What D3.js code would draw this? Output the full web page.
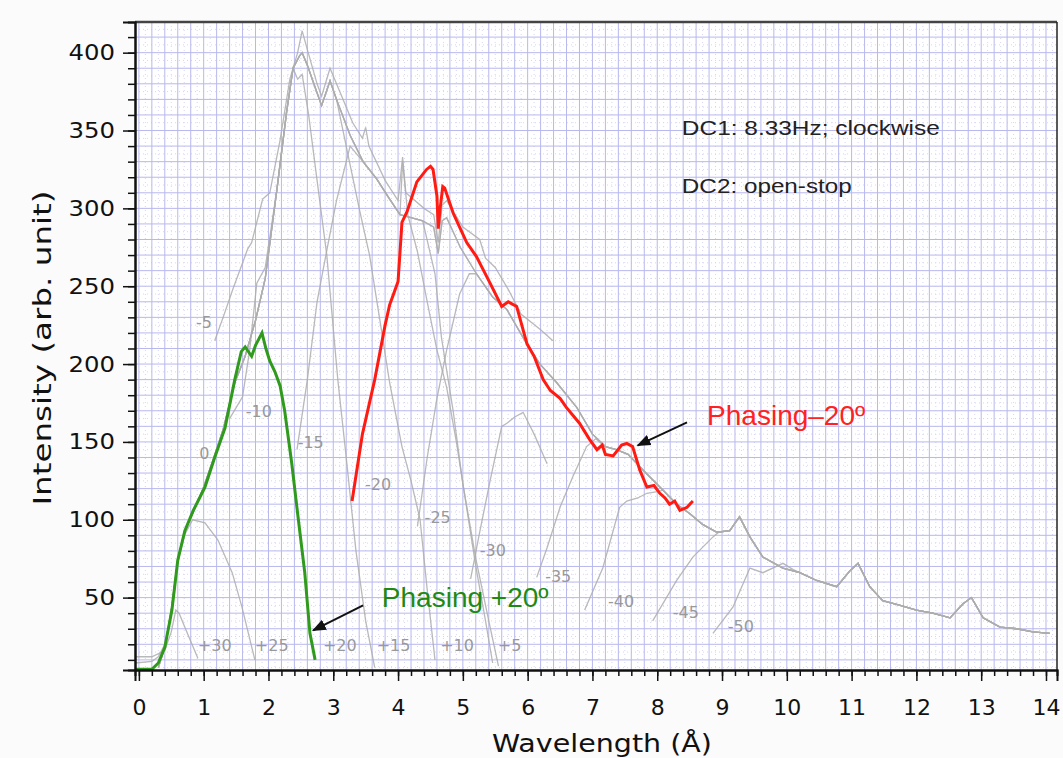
<!DOCTYPE html>
<html lang="en">
<head>
<meta charset="UTF-8"/>
<title>Phasing spectra</title>
<script src="https://d3js.org/d3.v7.min.js"></script>
<style>
	body{ margin:0; background:#fbfbfb; }
	text{ font-family: "DejaVu Sans", Verdana, sans-serif; }
	.note{ font-family: "Liberation Sans", Arial, sans-serif; }
</style>
</head>
<body>
<script>
// wavelength (Å), intensity (arb. unit)
var riseEdge = [[0.3,5],[0.4,18],[0.5,42],[0.6,74],[0.7,92],[0.85,106],[1.0,121],[1.15,139],[1.3,158],
	[1.48,188],[1.64,205],[1.8,228],[1.95,255],[2.13,312],[2.28,362],[2.38,390],[2.48,398]];
var spectrum = [[2.52,400],[2.6,392],[2.7,380],[2.82,366],[2.95,382],[3.05,370],[3.26,347],[3.46,330],
	[3.67,319],[3.87,306],[4.03,296],[4.2,294],[4.38,292],[4.55,288],[4.62,271],[4.68,292],[4.75,294],
	[4.96,275],[5.21,258],[5.46,243],[5.68,235],[5.93,217],[6.19,200],[6.45,188],[6.76,172],[7.0,155],
	[7.2,147],[7.37,145],[7.55,142],[7.78,132],[8.09,119],[8.3,110],[8.5,104],[8.7,97],[8.92,92],
	[9.12,93],[9.27,102],[9.43,89],[9.63,76],[9.94,69],[10.2,66],[10.46,61],[10.77,57],[10.97,67],
	[11.1,72],[11.28,57],[11.48,48],[11.75,45],[12.0,42],[12.25,40],[12.52,37],[12.72,46],[12.85,50],
	[13.03,37],[13.29,31],[13.55,30],[13.8,28],[14.06,27]];

var plus30 = [[-0.06,12],[0.2,12],[0.4,16],[0.5,28],[0.57,42],[0.62,40],[0.7,32],[0.8,22],[0.91,11]];
var plus25 = [[-0.06,8],[0.2,9],[0.3,12],[0.4,20],[0.5,40],[0.6,72],[0.7,90],[0.83,100],[1.02,98],
	[1.22,87],[1.44,66],[1.59,44],[1.79,10]];
var plus15Tail = [[2.45,383],[2.52,386],[2.62,360],[2.75,318],[2.9,270],[3.07,190],[3.2,140],[3.35,80],
	[3.5,35],[3.64,5]];
var plus10Tail = [[3.26,328],[3.4,300],[3.56,270],[3.72,228],[3.87,188],[4.06,147],[4.2,125],[4.34,100],
	[4.45,55],[4.57,10]];
var plus5Tail = [[4.07,330],[4.15,296],[4.3,272],[4.45,240],[4.6,209],[4.75,185],[4.9,150],[5.05,110],
	[5.2,70],[5.35,35],[5.46,8]];
var zeroTail = [[4.57,258],[4.67,217],[4.85,170],[5.0,123],[5.2,75],[5.4,35],[5.55,6]];

var minus5 = [[1.17,215],[1.3,230],[1.45,248],[1.68,274],[1.74,278],[1.91,306],[2.02,310],[2.18,344],
	[2.33,383],[2.45,400],[2.52,414],[2.6,402],[2.75,380],[2.82,372],[2.95,390],[3.1,375],[3.3,355],
	[3.45,345],[3.5,352],[3.55,340],[3.8,318],[4.0,305],[4.07,333],[4.12,310],[4.4,300],[4.55,296],
	[4.62,278],[4.68,302],[4.75,305],[5.0,288],[5.26,280],[5.35,268],[5.5,262],[5.7,248],[5.9,232],
	[6.08,226],[6.2,222],[6.39,215]];
var minus10Head = [[1.4,165],[1.6,179],[1.71,209],[1.82,252],[1.95,262]];
var minus15Head = [[2.44,145],[2.6,190],[2.75,240],[2.9,273],[3.05,305],[3.26,340]];
var minus25Head = [[4.3,96],[4.45,140],[4.6,178],[4.75,209],[4.95,245],[5.1,258]];
var minus30 = [[5.12,62],[5.25,90],[5.42,125],[5.6,160],[5.68,162],[5.8,166],[5.93,169],[6.1,155],[6.3,136]];
var minus35Head = [[6.14,63],[6.3,82],[6.5,108],[6.7,128],[6.91,147],[7.05,152]];
var minus40Head = [[6.88,42],[7.16,69],[7.42,108],[7.53,112],[7.7,114],[7.84,117],[8.0,118]];
var minus45Head = [[7.93,35],[8.3,61],[8.55,76],[8.86,89],[8.95,92]];
var minus50Head = [[8.86,27],[9.17,44],[9.43,69],[9.63,66],[9.94,72],[10.1,68]];

var phasingPlus20 = [[-0.06,4],[0.2,4],[0.3,8],[0.4,18],[0.51,42],[0.6,74],[0.71,93],[0.84,106],[1.02,121],
	[1.17,140],[1.33,159],[1.48,190],[1.58,208],[1.64,211],[1.74,205],[1.8,212],[1.9,220],[1.96,210],
	[2.02,202],[2.1,195],[2.18,186],[2.25,170],[2.36,136],[2.45,104],[2.56,66],[2.64,27],[2.72,10]];
var phasingMinus20 = [[3.29,112],[3.45,155],[3.64,190],[3.8,225],[3.87,238],[4.0,253],[4.06,291],[4.14,298],
	[4.29,317],[4.44,325],[4.5,327],[4.54,325],[4.6,308],[4.62,287],[4.65,300],[4.69,314],[4.72,313],
	[4.85,297],[4.95,288],[5.06,278],[5.21,269],[5.42,252],[5.6,237],[5.7,240],[5.83,237],[5.99,213],
	[6.1,205],[6.24,190],[6.35,183],[6.5,178],[6.6,172],[6.8,162],[6.95,152],[7.07,145],[7.15,148],
	[7.2,142],[7.32,141],[7.45,148],[7.53,149],[7.62,147],[7.73,132],[7.84,121],[7.95,122],[8.04,117],
	[8.12,114],[8.19,110],[8.27,112],[8.35,106],[8.46,108],[8.55,112]];

// label text, wavelength, intensity (baseline of the text)
var traceLabels = [["-5",0.88,223],["-10",1.65,166],["0",0.93,139],["-15",2.45,146],["-20",3.49,119],
	["-25",4.41,98],["-30",5.26,77],["-35",6.27,60],["-40",7.24,44],["-45",8.24,37],["-50",9.09,28],
	["+30",0.91,16],["+25",1.79,16],["+20",2.84,16],["+15",3.67,16],["+10",4.65,16],["+5",5.54,16]];

var xTicks = d3.range(0, 15);
var yTicks = [50,100,150,200,250,300,350,400];

function seg(arr, lo, hi){
	return arr.filter(function(p){ return p[0] >= lo && p[0] <= hi; });
}

var grayTraces = [
	plus30,
	plus25,
	seg(riseEdge, 0, 2.38).concat(plus15Tail),
	riseEdge.concat(seg(spectrum, 2.5, 3.2), plus10Tail),
	riseEdge.concat(seg(spectrum, 2.5, 4.03), plus5Tail),
	riseEdge.concat(seg(spectrum, 2.5, 4.5), zeroTail),
	minus5,
	minus10Head.concat(seg(riseEdge, 2.0, 2.48), seg(spectrum, 2.5, 9.55)),
	minus15Head.concat(seg(spectrum, 3.3, 14.1)),
	minus25Head.concat(seg(spectrum, 5.2, 14.1)),
	minus30,
	minus35Head.concat(seg(spectrum, 7.2, 14.1)),
	minus40Head.concat(seg(spectrum, 8.09, 14.1)),
	minus45Head.concat(seg(spectrum, 9.0, 14.1)),
	minus50Head.concat(seg(spectrum, 10.2, 14.1))
];

var w = 1063, h = 758;
var pLeft = 135, pRight = 1057, pTop = 22, pBottom = 670;

var x = d3.scaleLinear().domain([-0.06, 14.17]).range([pLeft, pRight]);
var y = d3.scaleLinear().domain([3.5, 419.7]).range([pBottom, pTop]);

var svg = d3.select("body").append("svg")
	.attr("width", w)
	.attr("height", h);

svg.append("rect")
	.attr("x", pLeft).attr("y", pTop)
	.attr("width", pRight - pLeft).attr("height", pBottom - pTop)
	.style("fill", "#ffffff");

// grid
var grid = svg.append("g");
grid.selectAll(".vd")
	.data(d3.range(0.1, 14.17, 0.2))
	.enter().append("line")
	.attr("x1", function(d){ return x(d); }).attr("x2", function(d){ return x(d); })
	.attr("y1", pTop).attr("y2", pBottom)
	.style("stroke", "#d6d6f4").style("stroke-dasharray", "1,3");
grid.selectAll(".hd")
	.data(d3.range(5, 420, 10))
	.enter().append("line")
	.attr("x1", pLeft).attr("x2", pRight)
	.attr("y1", function(d){ return y(d); }).attr("y2", function(d){ return y(d); })
	.style("stroke", "#d6d6f4").style("stroke-dasharray", "1,3");
grid.selectAll(".v")
	.data(d3.range(0, 14.17, 0.2))
	.enter().append("line")
	.attr("x1", function(d){ return x(d); }).attr("x2", function(d){ return x(d); })
	.attr("y1", pTop).attr("y2", pBottom)
	.style("stroke", "#b8b8ee");
grid.selectAll(".h")
	.data(d3.range(10, 420, 10))
	.enter().append("line")
	.attr("x1", pLeft).attr("x2", pRight)
	.attr("y1", function(d){ return y(d); }).attr("y2", function(d){ return y(d); })
	.style("stroke", "#b8b8ee");

var line = d3.line()
	.x(function(d){ return x(d[0]); })
	.y(function(d){ return y(d[1]); });

svg.append("g").selectAll("path")
	.data(grayTraces)
	.enter().append("path")
	.attr("d", line)
	.style("fill", "none")
	.style("stroke", "#adadad")
	.style("stroke-width", 1.3)
	.style("stroke-opacity", 0.85);

svg.append("path").datum(phasingPlus20)
	.attr("d", line)
	.style("fill", "none").style("stroke", "#2f9a1c").style("stroke-width", 3);
svg.append("path").datum(phasingMinus20)
	.attr("d", line)
	.style("fill", "none").style("stroke", "#ff1a12").style("stroke-width", 3);

svg.append("g").selectAll("text")
	.data(traceLabels)
	.enter().append("text")
	.attr("x", function(d){ return x(d[1]); })
	.attr("y", function(d){ return y(d[2]); })
	.text(function(d){ return d[0]; })
	.style("font-size", "16px")
	.style("fill", "#999");

// frame
svg.append("line").attr("x1", pLeft).attr("x2", pRight).attr("y1", pTop).attr("y2", pTop)
	.style("stroke", "#444").style("stroke-width", 2.5);
svg.append("line").attr("x1", pRight).attr("x2", pRight).attr("y1", pTop).attr("y2", pBottom)
	.style("stroke", "#222").style("stroke-width", 1.5);

// axes: minor ticks in their own groups, then labelled major ticks
function styleAxis(g){
	g.selectAll("text").style("font-size", "22px").style("fill", "#111");
	g.selectAll("line").style("stroke", "#111").style("stroke-width", 1.5);
	g.selectAll(".domain").style("stroke", "#111").style("stroke-width", 2);
}
var xMinor = svg.append("g").attr("transform", "translate(0," + pBottom + ")")
	.call(d3.axisBottom(x).tickValues(d3.range(0, 14.17, 0.2)).tickSize(6).tickFormat(""));
var xAxis = svg.append("g").attr("transform", "translate(0," + pBottom + ")")
	.call(d3.axisBottom(x).tickValues(xTicks).tickSize(11).tickPadding(18).tickFormat(d3.format("d")));
styleAxis(xMinor); styleAxis(xAxis);

var yMinor = svg.append("g").attr("transform", "translate(" + pLeft + ",0)")
	.call(d3.axisLeft(y).tickValues(d3.range(10, 420, 10)).tickSize(7).tickFormat(""));
var yAxis = svg.append("g").attr("transform", "translate(" + pLeft + ",0)")
	.call(d3.axisLeft(y).tickValues(yTicks).tickSize(12).tickPadding(8).tickFormat(d3.format("d")));
styleAxis(yMinor); styleAxis(yAxis);
yAxis.selectAll(".tick text")
	.attr("textLength", function(d){ return String(d).length * 15.5; })
	.attr("lengthAdjust", "spacingAndGlyphs");

svg.append("text")
	.attr("x", 602).attr("y", 752)
	.attr("text-anchor", "middle")
	.attr("textLength", 220).attr("lengthAdjust", "spacingAndGlyphs")
	.style("font-size", "25px").style("fill", "#111")
	.text("Wavelength (Å)");
svg.append("text")
	.attr("transform", "translate(51,348) rotate(-90)")
	.attr("text-anchor", "middle")
	.attr("textLength", 315).attr("lengthAdjust", "spacingAndGlyphs")
	.style("font-size", "25px").style("fill", "#111")
	.text("Intensity (arb. unit)");

// notes
svg.append("text").attr("class", "note")
	.attr("x", x(8.38)).attr("y", y(347))
	.attr("textLength", 258).attr("lengthAdjust", "spacingAndGlyphs")
	.style("font-size", "21px").style("fill", "#222")
	.text("DC1: 8.33Hz; clockwise");
svg.append("text").attr("class", "note")
	.attr("x", x(8.38)).attr("y", y(310))
	.attr("textLength", 170).attr("lengthAdjust", "spacingAndGlyphs")
	.style("font-size", "21px").style("fill", "#222")
	.text("DC2: open-stop");
svg.append("text").attr("class", "note")
	.attr("x", x(8.77)).attr("y", y(160.7))
	.style("font-size", "28px").style("fill", "#ff2222")
	.text("Phasing\u201320\u00ba");
svg.append("text").attr("class", "note")
	.attr("x", x(3.75)).attr("y", y(43.7))
	.style("font-size", "28px").style("fill", "#1e8a16")
	.text("Phasing +20\u00ba");

svg.append("defs").append("marker")
	.attr("id", "head")
	.attr("viewBox", "0 0 10 10")
	.attr("refX", 9).attr("refY", 5)
	.attr("markerWidth", 7).attr("markerHeight", 7)
	.attr("orient", "auto")
	.append("path").attr("d", "M0,1 L10,5 L0,9 Z").style("fill", "#111");

var arrows = [[[8.46,162.6],[7.70,147.8]], [[3.46,45],[2.69,29]]];
svg.selectAll(".arrow")
	.data(arrows)
	.enter().append("line")
	.attr("x1", function(d){ return x(d[0][0]); })
	.attr("y1", function(d){ return y(d[0][1]); })
	.attr("x2", function(d){ return x(d[1][0]); })
	.attr("y2", function(d){ return y(d[1][1]); })
	.style("stroke", "#111").style("stroke-width", 2)
	.attr("marker-end", "url(#head)");
</script>
</body>
</html>
